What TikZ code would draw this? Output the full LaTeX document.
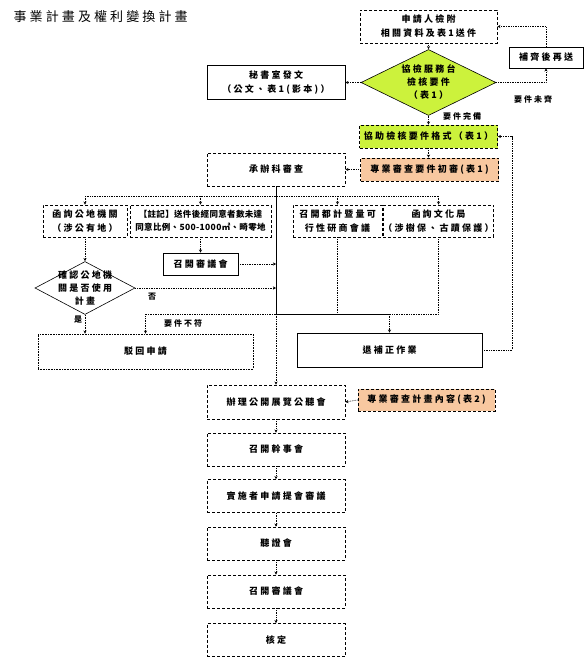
\documentclass[tikz,border=0pt]{standalone}
\usepackage{fontspec}
\usepackage{tikz}
\usetikzlibrary{positioning,arrows.meta,shapes.geometric}
\newfontfamily\cjk{Noto Sans CJK TC}[LetterSpace=25]
\newfontfamily\cjknote{Noto Sans CJK TC}[LetterSpace=4]
\newfontfamily\cjktitle{Noto Sans CJK TC}[LetterSpace=24]
\definecolor{lime}{HTML}{CCF23C}
\definecolor{peach}{HTML}{F8C8A0}
\tikzset{
  box/.style    ={draw=black, densely dashed, line width=0.6pt, fill=white, align=center, inner sep=0pt,
                  font=\cjk\bfseries\fontsize{9}{14}\selectfont},
  sbox/.style   ={box, solid},
  gate/.style   ={diamond, draw=black, line width=0.6pt, fill=white, inner sep=0pt},
  gatetxt/.style={align=center, inner sep=0pt, font=\cjk\bfseries\fontsize{9}{13}\selectfont},
  lbl/.style    ={inner sep=0pt, font=\cjk\bfseries\fontsize{8}{8}\selectfont},
  dotline/.style={densely dotted, line width=0.7pt},
  dotarr/.style ={dotline, -{Stealth[length=3.2pt,width=3.2pt]}},
}
\begin{document}
\begin{tikzpicture}[x=1pt, y=-1pt]
\useasboundingbox (0,0) rectangle (584,658);
\node[anchor=west, font=\cjktitle\fontsize{13}{13}\selectfont] (title) at (10,17) {事業計畫及權利變換計畫};

% ---- intake & completeness check
\node[box, minimum width=137pt, minimum height=33pt] (apply) at (428.5,26.5) {申請人檢附\\相關資料及表1送件};
\node[sbox, minimum width=74pt, minimum height=21pt] (resend) at (546,57.5) {補齊後再送};
\node[gate, fill=lime, minimum width=135pt, minimum height=66pt] (check) at (428.5,82.5) {};
\node[gatetxt] (checktxt) at (check.center) {協檢服務台\\檢核要件\\（表1）};
\node[lbl] (lacking) at (533,99) {要件未齊};
\node[lbl] (complete) at (462,116) {要件完備};
\node[sbox, minimum width=138pt, minimum height=34pt] (secretary) at (276,82.5) {秘書室發文\\（公文、表1(影本)）};
\node[box, fill=lime, minimum width=138pt, minimum height=23pt] (assist) at (428.5,136.5) {協助檢核要件格式（表1）};
\node[box, fill=peach, minimum width=138pt, minimum height=23pt] (prelim) at (429.5,169.5) {專業審查要件初審(表1)};
\node[box, minimum width=138pt, minimum height=33pt] (review) at (276,169.5) {承辦科審查};

% ---- consultations
\node[box, minimum width=84pt, minimum height=32pt] (publand) at (85,221) {函詢公地機關\\（涉公有地）};
\node[box, minimum width=141pt, minimum height=32pt, font=\cjknote\bfseries\fontsize{8.5}{13}\selectfont] (notebox) at (200.5,221) {【註記】送件後經同意者數未達\\同意比例、500-1000㎡、畸零地};
\node[box, minimum width=89pt, minimum height=32pt] (urban) at (337.5,221) {召開都計暨量可\\行性研商會議};
\node[box, minimum width=109pt, minimum height=32pt] (culture) at (438.5,221) {函詢文化局\\（涉樹保、古蹟保護）};
\node[sbox, minimum width=75pt, minimum height=22pt] (council) at (200.5,264) {召開審議會};
\node[gate, minimum width=100pt, minimum height=53pt] (usage) at (85,288) {};
\node[gatetxt] (usagetxt) at (usage.center) {確認公地機\\關是否使用\\計畫};
\node[lbl] (no) at (152,297) {否};
\node[lbl] (yes) at (78,320) {是};
\node[lbl] (unmet) at (183,323) {要件不符};
\node[box, densely dotted, minimum width=215pt, minimum height=35pt] (reject) at (145.5,351.5) {駁回申請};
\node[sbox, minimum width=185pt, minimum height=34pt] (supplement) at (389.5,350) {退補正作業};

% ---- exhibition & review chain
\node[box, minimum width=138pt, minimum height=34pt] (exhibit) at (276,402) {辦理公開展覽公聽會};
\node[box, fill=peach, minimum width=137pt, minimum height=22pt] (planrev) at (426.5,400) {專業審查計畫內容(表2)};
\foreach \name/\y/\txt in {staff/449.5/召開幹事會, submit/496/實施者申請提會審議, hearing/543.5/聽證會, board/591.5/召開審議會, approve/640/核定} {
  \node[box, minimum width=138pt, minimum height=33pt] (\name) at (276,\y) {\txt};
}

% ---- connectors
\coordinate (bus) at (0,196);
\coordinate (junc) at (276,314);
\coordinate (loop) at (512,0);
\draw[dotarr] (apply.south) -- (check.north);
\draw[dotarr] (resend.north) |- (apply.east);
\draw[dotarr] (check.east) -| (resend.south);
\draw[dotarr] (check.west) -- (secretary.east);
\draw[dotarr] (check.south) -- (assist.north);
\draw[dotarr] (assist.south) -- (assist.south |- prelim.north);
\draw[dotarr] (prelim.west) -- (review.east);
\draw[line width=0.7pt] (review.south) -- (junc);
\draw[dotline] (publand.north |- bus) -- (culture.north |- bus);
\foreach \n in {publand,notebox,urban,culture}
  \draw[dotarr] (\n.north |- bus) -- (\n.north);
\draw[dotarr] (notebox.south) -- (council.north);
\draw[dotarr] (council.east) -- (council.east -| junc);
\draw[dotarr] (publand.south) -- (usage.north);
\draw[dotarr] (usage.east) -- (usage.east -| junc);
\draw[dotarr] (usage.south) -- (usage.south |- reject.north);
\draw[dotarr] (junc) -| (reject.north);
\draw[line width=0.7pt] (junc) -- (junc -| supplement.north);
\draw[dotarr] (junc -| supplement.north) -- (supplement.north);
\draw[dotline] (urban.south) -- (urban.south |- junc);
\draw[dotline] (culture.south) |- (junc -| supplement.north);
\draw[dotarr] (supplement.east) -| (loop |- assist.east) -- (assist.east);
\draw[dotarr] (junc) -- (exhibit.north);
\draw[dotarr] (planrev.west) -- (exhibit.east);
\foreach \a/\b in {exhibit/staff, staff/submit, submit/hearing, hearing/board, board/approve}
  \draw[dotarr] (\a) -- (\b);
\end{tikzpicture}
\end{document}
